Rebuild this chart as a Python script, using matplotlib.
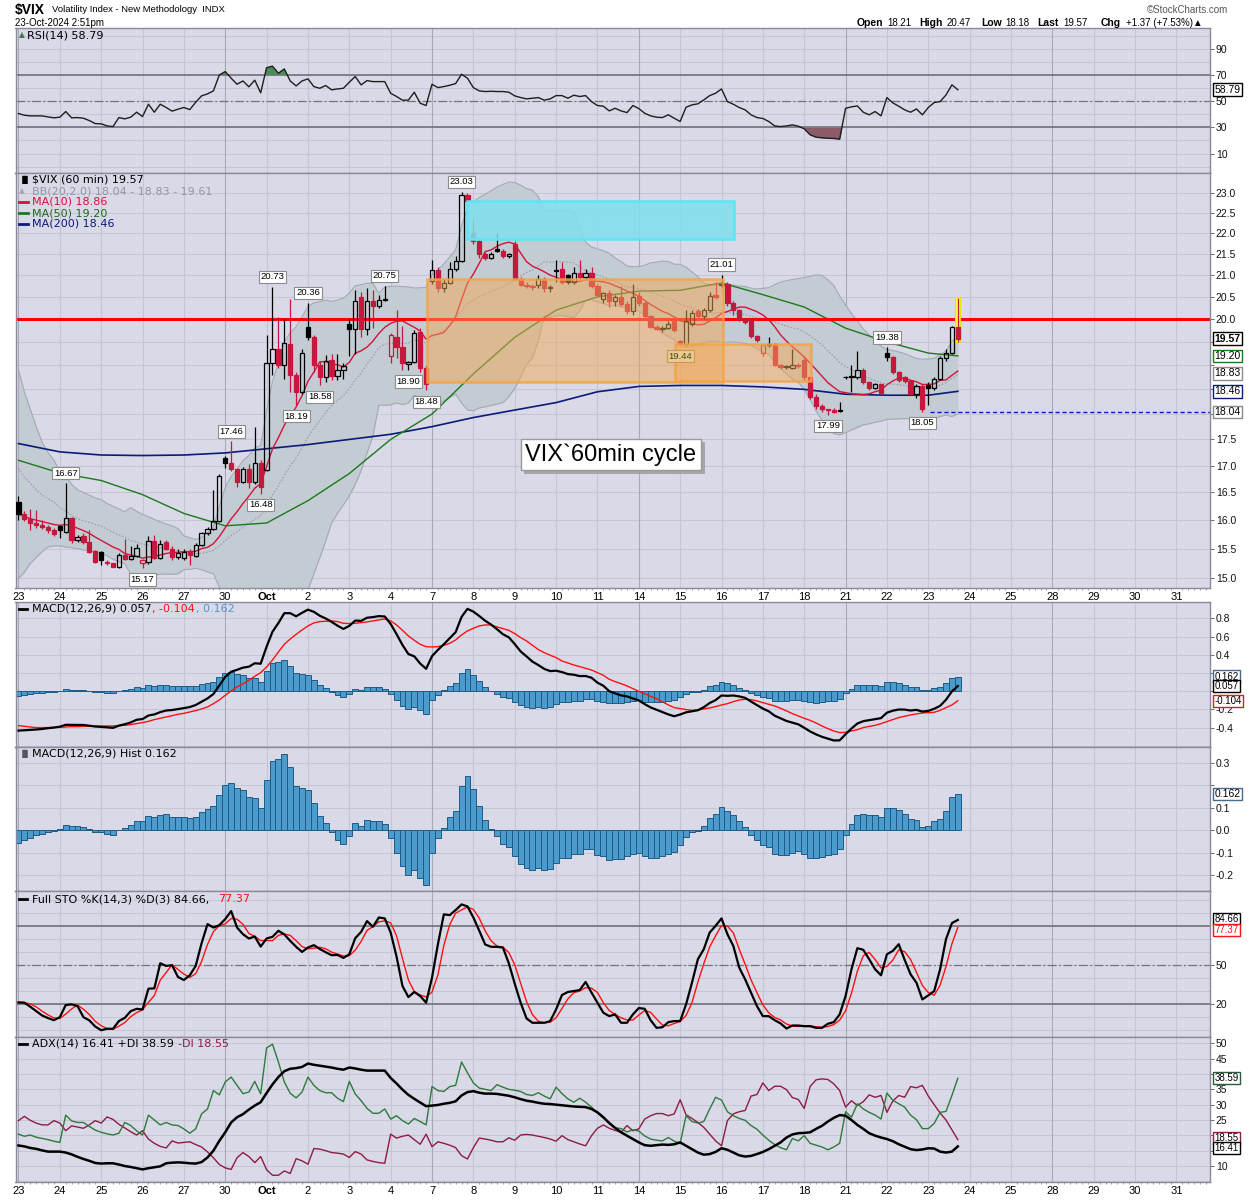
import numpy as np
import pandas as pd
import matplotlib
matplotlib.use('Agg')
import matplotlib.pyplot as plt
import matplotlib.patheffects as pe
from matplotlib.patches import Rectangle
from matplotlib.lines import Line2D
from matplotlib.ticker import FixedLocator, FuncFormatter, NullLocator

plt.rcParams['font.family'] = ['DejaVu Sans']

# trading days on the time axis (7 hourly bars per day)
day_labels = ['23', '24', '25', '26', '27', '30', 'Oct', '2', '3', '4', '7', '8', '9', '10', '11',
              '14', '15', '16', '17', '18', '21', '22', '23', '24', '25', '28', '29', '30', '31']

# $VIX 60 min candles, 23-Sep-2024 .. 23-Oct-2024 (14:30 bar)
opens = [16.33, 16.11, 16.02, 15.95, 15.92, 15.88, 15.82,
         15.90, 15.80, 16.03, 15.66, 15.72, 15.62, 15.46,
         15.45, 15.28, 15.25, 15.19, 15.40, 15.33, 15.38,
         15.26, 15.28, 15.64, 15.35, 15.61, 15.50, 15.36,
         15.34, 15.45, 15.38, 15.57, 15.77, 15.85, 15.98,
         17.15, 17.05, 16.93, 16.70, 16.94, 16.70, 17.05,
         16.92, 19.04, 19.35, 19.00, 19.45, 18.80, 18.45,
         19.82, 19.60, 19.00, 18.76, 19.12, 18.78, 18.90,
         19.90, 19.78, 20.50, 19.78, 20.40, 20.30, 20.42,
         19.20, 19.60, 19.38, 19.02, 19.07, 19.72, 18.95,
         20.87, 21.12, 20.70, 20.82, 21.15, 21.33, 22.95,
         22.00, 21.80, 21.50, 21.40, 21.62, 21.58, 21.45,
         21.75, 20.90, 20.78, 20.75, 20.78, 20.90, 20.70,
         21.12, 21.15, 21.00, 20.85, 21.05, 20.95, 21.05,
         20.75, 20.45, 20.58, 20.40, 20.50, 20.33, 20.17,
         20.52, 20.36, 20.06, 19.83, 19.78, 19.80, 19.95,
         19.52, 19.45, 19.90, 20.17, 20.06, 20.20, 20.55,
         20.80, 20.80, 20.35, 20.20, 19.98, 19.98, 19.63,
         19.27, 19.44, 19.45, 19.00, 18.97, 18.95, 19.00,
         19.12, 18.75, 18.35, 18.17, 18.08, 18.09, 18.07,
         18.75, 18.76, 18.76, 18.90, 18.65, 18.52, 18.60,
         19.27, 19.18, 18.85, 18.75, 18.67, 18.40, 18.57,
         18.58, 18.52, 18.72, 19.15, 19.27, 19.82]
highs = [16.44, 16.16, 16.20, 16.18, 16.00, 15.92, 15.86,
         15.92, 16.67, 16.05, 15.74, 15.78, 15.82, 15.48,
         15.47, 15.30, 15.26, 15.42, 15.67, 15.55, 15.58,
         15.32, 15.72, 15.74, 15.66, 15.66, 15.55, 15.50,
         15.50, 15.50, 15.60, 15.80, 15.88, 16.55, 16.85,
         17.18, 17.46, 16.96, 16.98, 17.02, 17.75, 17.10,
         19.65, 20.73, 20.05, 20.00, 20.45, 18.85, 19.35,
         20.36, 19.65, 19.10, 19.22, 19.25, 19.25, 19.05,
         20.00, 20.65, 20.60, 20.70, 20.65, 20.55, 20.75,
         19.70, 20.20, 19.85, 19.10, 19.75, 19.80, 19.00,
         21.35, 21.20, 20.90, 21.30, 21.45, 23.03, 23.00,
         22.35, 21.85, 21.55, 21.55, 22.00, 21.62, 21.52,
         21.80, 20.95, 20.85, 20.80, 21.00, 20.95, 20.78,
         21.35, 21.30, 21.02, 21.20, 21.35, 21.15, 21.20,
         20.80, 20.62, 20.65, 20.55, 20.75, 20.40, 20.80,
         20.60, 20.40, 20.10, 19.88, 19.85, 19.95, 19.98,
         19.55, 20.20, 20.20, 20.22, 20.25, 20.60, 20.85,
         21.01, 20.85, 20.40, 20.22, 20.02, 20.02, 19.66,
         19.46, 19.60, 19.48, 19.02, 19.00, 19.35, 19.05,
         19.20, 18.78, 18.40, 18.20, 18.10, 18.12, 18.25,
         18.78, 19.00, 19.30, 18.95, 18.68, 18.64, 18.62,
         19.38, 19.20, 18.88, 18.78, 18.70, 18.60, 18.60,
         18.65, 18.75, 19.20, 19.35, 19.85, 20.47]
lows = [16.00, 15.98, 15.83, 15.86, 15.85, 15.78, 15.72,
        15.68, 15.78, 15.60, 15.62, 15.58, 15.42, 15.26,
        15.22, 15.22, 15.19, 15.18, 15.30, 15.30, 15.36,
        15.17, 15.24, 15.32, 15.33, 15.48, 15.30, 15.32,
        15.30, 15.22, 15.36, 15.55, 15.74, 15.82, 15.96,
        16.95, 16.90, 16.60, 16.68, 16.58, 16.65, 16.48,
        16.90, 18.80, 18.95, 18.72, 18.45, 18.19, 18.40,
        19.55, 18.85, 18.58, 18.65, 18.70, 18.70, 18.72,
        19.20, 19.25, 19.60, 19.65, 19.80, 20.25, 20.40,
        19.05, 19.15, 18.90, 18.90, 19.05, 18.85, 18.48,
        20.80, 20.60, 20.62, 20.80, 21.10, 21.30, 22.70,
        21.75, 21.40, 21.35, 21.38, 21.55, 21.40, 21.40,
        20.88, 20.75, 20.70, 20.65, 20.70, 20.60, 20.62,
        20.85, 20.80, 20.80, 20.80, 20.90, 20.92, 20.70,
        20.50, 20.35, 20.28, 20.30, 20.30, 20.12, 20.10,
        20.30, 20.00, 19.80, 19.75, 19.72, 19.78, 19.72,
        19.44, 19.42, 19.85, 20.00, 20.00, 20.15, 20.45,
        20.70, 20.30, 20.10, 19.95, 19.90, 19.58, 19.50,
        19.20, 19.40, 18.98, 18.92, 18.93, 18.93, 18.95,
        18.70, 18.30, 18.10, 18.05, 17.99, 18.02, 18.05,
        18.72, 18.45, 18.72, 18.60, 18.48, 18.50, 18.40,
        19.10, 18.82, 18.65, 18.64, 18.38, 18.32, 18.05,
        18.18, 18.48, 18.70, 19.10, 19.25, 19.50]
closes = [16.11, 16.02, 15.95, 15.92, 15.88, 15.82, 15.76,
          15.82, 16.03, 15.66, 15.71, 15.62, 15.45, 15.28,
          15.30, 15.25, 15.19, 15.40, 15.33, 15.38, 15.52,
          15.30, 15.64, 15.35, 15.58, 15.50, 15.36, 15.42,
          15.45, 15.40, 15.57, 15.77, 15.85, 15.98, 16.81,
          17.05, 16.93, 16.70, 16.94, 16.70, 17.05, 16.60,
          19.04, 19.35, 19.00, 19.47, 18.80, 18.45, 19.27,
          19.60, 19.00, 18.76, 19.10, 18.78, 18.90, 18.98,
          19.78, 20.40, 19.78, 20.40, 20.30, 20.42, 20.44,
          19.65, 19.38, 19.05, 19.07, 19.70, 18.95, 18.62,
          21.12, 20.70, 20.82, 21.15, 21.33, 22.95, 22.80,
          21.80, 21.50, 21.40, 21.50, 21.58, 21.45, 21.50,
          20.90, 20.78, 20.75, 20.72, 20.90, 20.70, 20.72,
          21.10, 20.85, 20.85, 21.05, 20.95, 21.05, 20.75,
          20.55, 20.58, 20.40, 20.50, 20.33, 20.17, 20.49,
          20.36, 20.06, 19.83, 19.78, 19.80, 19.90, 19.76,
          19.45, 19.95, 20.13, 20.06, 20.20, 20.52, 20.50,
          20.78, 20.35, 20.20, 20.00, 19.93, 19.63, 19.55,
          19.44, 19.46, 19.00, 18.97, 18.97, 19.00, 18.98,
          18.75, 18.35, 18.17, 18.10, 18.09, 18.05, 18.08,
          18.76, 18.77, 18.90, 18.65, 18.52, 18.60, 18.43,
          19.18, 18.85, 18.69, 18.67, 18.40, 18.57, 18.10,
          18.52, 18.72, 19.15, 19.27, 19.82, 19.57]

# bands before 20 bars of history are available
bb_up_head = [18.90, 18.45, 18.10, 17.75, 17.45, 17.25, 17.10, 16.90, 16.80, 16.65,
              16.55, 16.50, 16.45, 16.40, 16.37, 16.30, 16.25, 16.20, 16.15]
bb_lo_head = [15.00, 15.10, 15.25, 15.35, 15.45, 15.53, 15.55, 15.55, 15.53, 15.52,
              15.50, 15.48, 15.47, 15.45, 15.42, 15.38, 15.32, 15.28, 15.25]

# long moving averages, one reading per session start
ma_bars = [0, 7, 14, 21, 28, 35, 42, 49, 56, 63, 70, 77, 84, 91, 98, 105, 112, 119,
           126, 133, 140, 147, 154, 159]
ma50 = [17.10, 16.86, 16.72, 16.46, 16.12, 15.90, 15.95, 16.35, 16.85, 17.50, 18.00, 18.82,
        19.60, 20.20, 20.50, 20.63, 20.65, 20.82, 20.55, 20.27, 19.80, 19.50, 19.26, 19.20]
ma200 = [17.42, 17.26, 17.20, 17.19, 17.20, 17.24, 17.32, 17.40, 17.50, 17.60, 17.75, 17.93,
         18.08, 18.23, 18.45, 18.56, 18.58, 18.58, 18.55, 18.50, 18.40, 18.38, 18.38, 18.46]

rsi = [40.6, 39.3, 38.8, 38.8, 38.8, 38.0, 37.3, 37.8, 42.1, 37.3,
       37.5, 37.0, 35.2, 32.9, 32.7, 31.1, 30.6, 37.5, 36.5, 37.8,
       41.6, 38.3, 47.7, 41.6, 47.7, 45.2, 42.4, 43.9, 45.2, 43.6,
       49.2, 54.1, 55.6, 57.9, 70.1, 72.7, 67.6, 63.0, 65.5, 61.0,
       66.1, 56.4, 75.7, 76.8, 71.4, 74.7, 65.5, 61.7, 65.5, 67.1,
       61.2, 59.9, 62.0, 58.7, 59.4, 59.9, 64.5, 68.9, 62.5, 65.8,
       65.0, 65.0, 65.0, 56.1, 53.6, 50.8, 50.8, 56.9, 48.5, 46.7,
       63.0, 60.4, 61.2, 62.2, 63.5, 70.6, 67.6, 60.4, 57.9, 57.4,
       57.6, 57.4, 57.4, 56.9, 54.1, 52.8, 51.8, 52.3, 52.8, 50.8,
       51.8, 54.3, 54.3, 52.3, 54.6, 53.6, 54.3, 49.7, 46.7, 46.2,
       42.6, 44.6, 42.6, 41.3, 46.7, 44.4, 40.8, 38.8, 37.8, 37.5,
       39.6, 37.0, 34.5, 45.4, 47.2, 48.0, 51.0, 54.3, 56.1, 59.4,
       49.7, 47.7, 45.2, 43.4, 39.6, 37.5, 36.8, 34.5, 31.1, 30.6,
       31.1, 31.9, 30.9, 28.9, 24.3, 22.5, 22.0, 21.7, 21.5, 21.0,
       44.6, 45.7, 46.4, 41.6, 39.6, 42.1, 38.8, 52.8, 48.7, 46.2,
       43.4, 41.6, 44.1, 39.6, 45.2, 49.0, 49.7, 54.8, 62.5, 58.8]

macd_signal = [-0.377, -0.385, -0.392, -0.399, -0.399, -0.399, -0.396, -0.396, -0.392, -0.388,
               -0.388, -0.385, -0.385, -0.381, -0.381, -0.381, -0.381, -0.377, -0.374, -0.366,
               -0.355, -0.344, -0.330, -0.311, -0.297, -0.282, -0.267, -0.253, -0.242, -0.227,
               -0.212, -0.194, -0.172, -0.136, -0.095, -0.044, 0.004, 0.048, 0.081, 0.121,
               0.165, 0.205, 0.267, 0.344, 0.432, 0.516, 0.575, 0.626, 0.674, 0.718,
               0.751, 0.766, 0.769, 0.773, 0.766, 0.747, 0.744, 0.747, 0.755, 0.762,
               0.773, 0.784, 0.795, 0.773, 0.729, 0.670, 0.608, 0.560, 0.516, 0.491,
               0.487, 0.491, 0.505, 0.527, 0.564, 0.619, 0.663, 0.692, 0.718, 0.729,
               0.729, 0.707, 0.689, 0.670, 0.634, 0.590, 0.553, 0.505, 0.458, 0.425,
               0.396, 0.370, 0.333, 0.311, 0.289, 0.271, 0.253, 0.234, 0.205, 0.176,
               0.132, 0.106, 0.084, 0.059, 0.029, 0.000, -0.026, -0.055, -0.081, -0.114,
               -0.150, -0.179, -0.190, -0.201, -0.209, -0.205, -0.194, -0.183, -0.168, -0.150,
               -0.136, -0.114, -0.095, -0.088, -0.092, -0.106, -0.125, -0.143, -0.161, -0.187,
               -0.216, -0.245, -0.271, -0.297, -0.319, -0.348, -0.381, -0.410, -0.436, -0.454,
               -0.451, -0.436, -0.421, -0.399, -0.385, -0.374, -0.355, -0.333, -0.311, -0.289,
               -0.275, -0.260, -0.249, -0.238, -0.234, -0.231, -0.209, -0.179, -0.150, -0.104]
macd_hist = [-0.055, -0.043, -0.033, -0.021, -0.015, -0.006, -0.003, 0.007, 0.024, 0.019,
             0.019, 0.015, 0.006, -0.006, -0.010, -0.015, -0.021, 0.000, 0.012, 0.024,
             0.042, 0.039, 0.064, 0.057, 0.068, 0.071, 0.061, 0.057, 0.057, 0.054,
             0.061, 0.079, 0.094, 0.106, 0.158, 0.202, 0.211, 0.188, 0.179, 0.149,
             0.143, 0.098, 0.223, 0.310, 0.318, 0.342, 0.283, 0.198, 0.188, 0.179,
             0.122, 0.064, 0.031, -0.010, -0.045, -0.062, -0.025, 0.030, 0.019, 0.046,
             0.042, 0.042, 0.027, -0.033, -0.101, -0.161, -0.199, -0.176, -0.211, -0.244,
             -0.101, -0.036, 0.012, 0.057, 0.086, 0.198, 0.243, 0.183, 0.109, 0.046,
             0.004, -0.025, -0.062, -0.077, -0.115, -0.152, -0.170, -0.179, -0.170, -0.179,
             -0.174, -0.144, -0.122, -0.122, -0.107, -0.104, -0.085, -0.085, -0.110, -0.115,
             -0.131, -0.129, -0.129, -0.115, -0.107, -0.101, -0.115, -0.122, -0.122, -0.115,
             -0.104, -0.095, -0.065, -0.030, -0.010, -0.003, 0.019, 0.054, 0.071, 0.104,
             0.086, 0.068, 0.039, 0.016, -0.021, -0.045, -0.065, -0.077, -0.107, -0.110,
             -0.110, -0.100, -0.092, -0.104, -0.122, -0.125, -0.119, -0.110, -0.104, -0.085,
             -0.021, 0.027, 0.067, 0.071, 0.068, 0.068, 0.060, 0.098, 0.098, 0.089,
             0.074, 0.049, 0.045, 0.015, 0.019, 0.039, 0.049, 0.086, 0.149, 0.162]

sto_k = [21.5, 21.3, 18.2, 14.8, 11.5, 9.5, 7.9, 10.2, 19.5, 20.0,
         18.7, 10.2, 7.7, 3.0, 0.2, 1.3, 1.3, 7.2, 9.7, 14.8,
         16.6, 16.1, 32.0, 32.3, 51.5, 49.5, 50.0, 41.0, 38.7, 42.3,
         49.5, 66.9, 81.5, 78.9, 80.7, 85.4, 91.5, 78.9, 73.8, 70.5,
         72.0, 64.3, 70.5, 71.8, 76.4, 73.6, 68.7, 64.1, 60.2, 63.6,
         65.4, 62.5, 60.0, 57.7, 57.9, 55.6, 58.4, 70.7, 75.6, 83.8,
         79.5, 86.6, 85.9, 75.1, 56.6, 34.1, 25.6, 29.5, 26.4, 21.3,
         40.5, 66.1, 89.0, 88.4, 92.3, 96.6, 95.1, 86.6, 76.4, 65.9,
         64.1, 64.1, 63.6, 51.5, 35.9, 21.3, 9.2, 5.9, 5.9, 5.9,
         7.2, 16.1, 27.2, 29.5, 30.2, 31.0, 37.2, 29.0, 21.3, 13.6,
         11.0, 12.3, 5.9, 5.9, 12.3, 17.2, 16.6, 7.9, 2.0, 2.5,
         6.4, 7.2, 7.2, 20.0, 36.6, 54.6, 62.3, 75.1, 80.2, 85.9,
         73.8, 64.8, 48.2, 39.2, 29.0, 18.7, 11.0, 11.0, 7.9, 5.4,
         1.5, 3.8, 3.8, 3.3, 3.3, 2.0, 2.0, 5.1, 6.4, 12.3,
         26.4, 46.9, 63.1, 61.8, 54.6, 46.9, 42.3, 58.4, 61.0, 66.1,
         54.1, 43.1, 36.6, 23.8, 26.9, 30.2, 46.9, 70.0, 82.3, 84.7]

adx = [16.7, 16.4, 15.9, 15.6, 15.1, 14.7, 14.7, 14.7, 14.4, 13.8,
       13.0, 12.3, 11.7, 11.0, 10.8, 10.9, 10.9, 10.5, 10.0, 9.7,
       9.3, 8.9, 9.3, 9.6, 9.9, 10.9, 11.1, 11.2, 11.1, 10.9,
       10.8, 11.3, 12.8, 15.0, 18.2, 21.0, 24.2, 25.9, 26.9, 28.4,
       29.7, 30.8, 33.8, 36.6, 39.0, 40.9, 41.7, 41.9, 42.3, 43.4,
       43.0, 42.7, 42.4, 42.1, 41.7, 41.4, 42.1, 41.8, 41.4, 41.1,
       41.1, 41.1, 41.1, 38.7, 36.9, 34.9, 33.2, 31.9, 30.7, 29.5,
       29.7, 29.9, 30.3, 30.6, 31.1, 33.0, 34.1, 34.4, 33.9, 33.6,
       33.6, 33.5, 33.2, 32.9, 32.4, 31.8, 31.3, 31.0, 30.6, 30.3,
       30.2, 30.0, 29.8, 29.6, 29.4, 29.3, 29.2, 28.6, 27.5, 25.9,
       24.0, 22.4, 21.0, 19.9, 18.8, 17.7, 16.8, 16.6, 16.8, 17.0,
       16.9, 17.1, 17.7, 16.6, 15.5, 14.4, 13.7, 13.9, 14.6, 15.8,
       15.3, 14.4, 13.5, 13.1, 13.3, 13.9, 14.6, 15.5, 16.6, 17.7,
       19.3, 20.3, 20.7, 20.8, 21.0, 22.1, 23.1, 24.5, 25.7, 26.6,
       26.4, 25.0, 23.4, 22.1, 20.7, 19.9, 19.3, 18.8, 18.1, 17.1,
       16.3, 15.5, 15.2, 15.4, 15.8, 15.7, 14.7, 14.4, 14.7, 16.4]
plus_di = [20.4, 19.7, 20.1, 19.4, 19.0, 18.6, 18.1, 17.7, 26.6, 24.7,
           24.2, 24.2, 22.9, 21.7, 21.0, 20.5, 20.1, 20.7, 24.2, 23.2,
           21.5, 20.1, 26.6, 25.0, 23.4, 24.2, 23.4, 23.2, 22.1, 20.7,
           22.1, 27.0, 28.6, 34.6, 33.2, 37.4, 39.0, 36.3, 33.6, 34.1,
           37.6, 33.5, 48.5, 49.7, 43.9, 37.4, 33.7, 32.2, 34.1, 39.0,
           36.3, 34.6, 33.9, 33.9, 32.1, 31.0, 37.6, 33.5, 31.3, 28.8,
           27.2, 27.2, 28.6, 25.3, 26.4, 24.8, 23.7, 25.5, 24.5, 23.4,
           35.9, 34.6, 34.3, 35.9, 36.3, 43.9, 40.4, 37.1, 35.4, 35.0,
           34.6, 36.5, 35.7, 35.0, 34.7, 34.3, 33.3, 33.0, 33.9, 32.8,
           31.9, 35.7, 33.6, 31.9, 30.8, 32.1, 30.8, 29.2, 27.3, 25.7,
           24.2, 22.5, 22.2, 21.1, 21.8, 21.4, 19.8, 18.8, 18.4, 18.2,
           19.3, 18.1, 17.4, 26.4, 24.5, 24.0, 24.5, 28.6, 32.4, 31.5,
           27.7, 26.4, 25.5, 24.9, 23.2, 22.0, 20.1, 18.4, 17.0, 16.0,
           15.3, 19.0, 18.2, 19.9, 17.4, 16.8, 16.2, 15.3, 16.2, 17.4,
           27.7, 25.9, 30.3, 28.6, 27.5, 26.6, 25.3, 33.8, 31.4, 30.3,
           29.2, 26.6, 25.1, 22.2, 22.2, 23.9, 27.5, 27.8, 33.0, 38.6]
minus_di = [24.8, 26.2, 24.9, 24.0, 23.4, 23.4, 24.8, 24.0, 21.5, 23.1,
            22.7, 22.3, 23.4, 24.8, 24.0, 26.0, 25.2, 23.6, 22.4, 21.2,
            20.1, 21.5, 18.8, 17.4, 16.4, 15.9, 18.2, 17.5, 17.7, 17.9,
            17.0, 16.2, 14.6, 12.7, 10.5, 9.4, 8.9, 12.7, 14.4, 13.1,
            11.1, 13.1, 8.8, 7.0, 7.0, 8.4, 7.6, 12.4, 11.7, 10.6,
            15.7, 15.5, 15.0, 14.4, 14.2, 13.9, 12.8, 14.7, 13.9, 12.0,
            11.5, 11.1, 10.9, 20.4, 19.1, 19.7, 20.1, 18.6, 17.1, 20.4,
            16.3, 17.9, 17.4, 16.8, 16.0, 13.4, 12.3, 16.0, 19.1, 18.8,
            18.4, 17.9, 17.9, 19.2, 18.4, 20.1, 20.3, 20.1, 19.7, 19.3,
            18.8, 18.1, 19.9, 18.6, 17.9, 17.2, 16.6, 19.9, 22.3, 23.4,
            22.3, 21.6, 21.0, 23.2, 21.5, 22.1, 25.3, 26.4, 27.1, 27.1,
            26.4, 27.0, 31.6, 26.7, 25.5, 24.2, 22.6, 20.4, 18.2, 16.6,
            24.8, 27.0, 27.7, 28.1, 32.8, 33.3, 37.1, 34.6, 36.0, 36.0,
            34.9, 32.3, 31.7, 28.8, 35.9, 38.1, 38.4, 38.2, 36.8, 34.6,
            29.2, 31.3, 29.7, 31.0, 33.2, 32.4, 33.0, 27.5, 31.2, 33.0,
            32.4, 35.9, 35.5, 36.3, 32.8, 30.0, 27.3, 25.0, 21.8, 18.6]

# bars carrying high / low price flags
peak_bars = [8, 36, 43, 49, 62, 75, 119, 147]
trough_bars = [21, 41, 47, 51, 66, 69, 112, 137, 153]

# ---------------- derived series ----------------
o = np.array(opens); h = np.array(highs); l = np.array(lows); c = np.array(closes)
n = len(c)
idx = np.arange(n)
cs = pd.Series(c)
ma10 = cs.rolling(10, min_periods=1).mean().to_numpy()
mid = cs.rolling(20, min_periods=1).mean().to_numpy()
sd = cs.rolling(20, min_periods=20).std(ddof=0).to_numpy()
bb_up = mid + 2 * sd
bb_lo = mid - 2 * sd
k0 = len(bb_up_head)
bb_up[:k0] = bb_up_head
bb_lo[:k0] = bb_lo_head
mid[:k0] = (np.array(bb_up_head) + np.array(bb_lo_head)) / 2
sig = np.array(macd_signal)
hist = np.array(macd_hist)
macd = sig + hist
sto_k = np.array(sto_k)
sto_d = pd.Series(sto_k).rolling(3, min_periods=1).mean().to_numpy()
rsi = np.array(rsi)

# ---------------- layout (pixel based) ----------------
W, H = 1250, 1200
fig = plt.figure(figsize=(W / 100, H / 100), dpi=100)
fig.patch.set_facecolor('white')
L, R = 15.5, 1209.5
XMAX = 201.6
BG = '#D9D9E7'
GRID = '#C5C5D4'
WEEK = '#A8A8BA'
FRAME = '#8A8A9A'
RED = '#C8173D'
day_x = np.arange(len(day_labels)) * 7


def panel(top, bottom):
    return fig.add_axes([L / W, 1 - bottom / H, (R - L) / W, (bottom - top) / H])


def base(ax, ylim, ticks, fmt, grid_vals, xlab=False, covered=()):
    # covered: tick values whose labels sit under the value flags
    ax.set_facecolor(BG)
    ax.set_xlim(-0.5, XMAX)
    ax.set_ylim(*ylim)
    for g in grid_vals:
        ax.axhline(g, color=GRID, lw=0.7, zorder=0)
    for j, d in enumerate(day_x):
        ax.axvline(d, color=WEEK if j % 5 == 0 else GRID, lw=0.8, zorder=0)
    ax.yaxis.tick_right()
    ax.yaxis.set_major_locator(FixedLocator(ticks))
    ax.yaxis.set_minor_locator(NullLocator())
    ax.yaxis.set_major_formatter(FuncFormatter(
        lambda v, p: '' if any(abs(v - cv) < 1e-6 for cv in covered) else fmt % v))
    ax.tick_params(axis='y', which='major', length=3, width=0.6, color='#555555',
                   labelsize=7.5, pad=1.5, labelcolor='#111111')
    for t in ax.get_yticklabels():
        t.set_family('Liberation Sans')
    ax.set_xticks(day_x)
    if xlab:
        ax.set_xticklabels(day_labels)
        ax.set_xticks(np.arange(0, XMAX, 1), minor=True)
        ax.tick_params(axis='x', which='major', length=0, pad=3, labelsize=8)
        ax.tick_params(axis='x', which='minor', length=1.5, width=0.5, color='#777777')
        for t in ax.get_xticklabels():
            t.set_family('Liberation Sans')
            if t.get_text() == 'Oct':
                t.set_fontweight('bold')
    else:
        ax.tick_params(axis='x', length=0, labelbottom=False)
    for s in ax.spines.values():
        s.set_color(FRAME)
        s.set_linewidth(1.0)


def ftext(x, y, s, **kw):
    kw.setdefault('fontsize', 8)
    kw.setdefault('va', 'center')
    return fig.text(x / W, 1 - y / H, s, **kw)


def fline(x0, x1, y, color, lw=2.0):
    fig.add_artist(Line2D([x0 / W, x1 / W], [1 - y / H, 1 - y / H], color=color, lw=lw,
                          transform=fig.transFigure))


def vbox(ax, y, s, ec, bold=False, tc='black', size=7.5):
    ax.text(1.004, y, s, transform=ax.get_yaxis_transform(), ha='left', va='center',
            fontsize=size, color=tc, family='Liberation Sans',
            fontweight='bold' if bold else 'normal', clip_on=False, zorder=20,
            bbox=dict(boxstyle='square,pad=0.12', fc='white', ec=ec, lw=1.0))


ax_rsi = panel(28, 173)
ax_px = panel(173, 588)
ax_macd = panel(602, 747)
ax_hist = panel(747, 891)
ax_sto = panel(891, 1037)
ax_adx = panel(1037, 1182)

# ---------------- header ----------------
ftext(15, 10, '$VIX', fontsize=10, fontweight='bold', family='Liberation Sans')
ftext(52, 10, 'Volatility Index - New Methodology  INDX', fontsize=6.8, family='Liberation Sans')
ftext(15, 23, '23-Oct-2024 2:51pm', fontsize=7, family='Liberation Sans')
ftext(1228, 10, '\u00a9StockCharts.com', fontsize=7, ha='right', color='#555555', family='Liberation Sans')
for x, s, b in [(857, 'Open', True), (887, '18.21', False), (919, 'High', True), (947, '20.47', False),
                (981, 'Low', True), (1005, '18.18', False), (1037, 'Last', True), (1063, '19.57', False),
                (1101, 'Chg', True), (1126, '+1.37 (+7.53%)\u25b2', False)]:
    ftext(x, 23, s, fontsize=7.5 if b else 7, fontweight='bold' if b else 'normal', family='Liberation Sans')

# ---------------- RSI ----------------
ax = ax_rsi
base(ax, (-4.9, 106), [10, 30, 50, 70, 90], '%d', range(0, 101, 10))
ax.axhline(70, color='#6A6A74', lw=1.1, zorder=1)
ax.axhline(30, color='#6A6A74', lw=1.1, zorder=1)
ax.axhline(50, color='#74747C', lw=0.9, ls=(0, (7, 2, 1.5, 2)), zorder=1)
ax.fill_between(idx, rsi, 70, where=rsi > 70, interpolate=True, color='#4E8A5C', lw=0, zorder=2)
ax.fill_between(idx, rsi, 30, where=rsi < 30, interpolate=True, color='#8C5C68', lw=0, zorder=2)
ax.plot(idx, rsi, color='#1E1E1E', lw=1.0, zorder=3)
vbox(ax, rsi[-1], '%.2f' % 58.79, 'black')
ftext(19, 35, '\u25b2', fontsize=5.5, color='#3E7A4C')
ftext(27, 35, 'RSI(14) 58.79')

# ---------------- price ----------------
ax = ax_px
ax.set_yscale('log')
pticks = np.arange(15.0, 23.01, 0.5)
base(ax, (14.84, 23.52), pticks, '%.1f', pticks, xlab=True, covered=(18.0, 18.5, 19.0, 19.5))
ax.fill_between(idx, bb_lo, bb_up, color='#C3CBD3', lw=0, zorder=1)
ax.plot(idx, bb_up, color='#A2AAB4', lw=0.8, zorder=1.5)
ax.plot(idx, bb_lo, color='#A2AAB4', lw=0.8, zorder=1.5)
ax.plot(idx, mid, color='#9C9CA6', lw=0.8, ls=(0, (1.5, 1.5)), zorder=1.6)
ax.plot(ma_bars, ma200, color='#0B1B78', lw=1.2, zorder=2)
ax.plot(ma_bars, ma50, color='#1B7A1B', lw=1.0, zorder=2)
ax.plot(idx, ma10, color='#D0143C', lw=1.0, zorder=2.2)
ax.axhline(20.0, color='#FF0000', lw=2.2, zorder=2.5)
ax.hlines(18.04, 154.3, XMAX, colors='#1414CC', linestyles=(0, (3, 2)), lw=1.0, zorder=2.5)
ax.add_patch(Rectangle((158.55, 19.5), 0.9, 1.0, fc='#FFFF3A', ec='#E6E600', lw=0.8, zorder=3))

prev_c = np.r_[c[0], c[:-1]]
col = np.where(c >= prev_c, '#000000', RED)
face = np.where(c < o, col, 'none')
body_lo = np.minimum(o, c)
body_hi = np.maximum(o, c)
body_h = np.maximum(body_hi - body_lo, 0.015)
ax.vlines(idx, l, body_lo, colors=list(col), lw=0.9, zorder=4)
ax.vlines(idx, body_hi, h, colors=list(col), lw=0.9, zorder=4)
ax.bar(idx, body_h, bottom=body_lo, width=0.72, color=list(face), edgecolor=list(col),
       linewidth=0.9, zorder=4.2)

# drawn zones (bar index / price corners)
zone_a = (69.1, 119.3, 18.65, 20.92)
zone_b = (111.1, 134.2, 18.68, 19.46)
for x0, x1, y0, y1 in (zone_a, zone_b):
    ax.add_patch(Rectangle((x0, y0), x1 - x0, y1 - y0,
                           fc=(0.95, 0.66, 0.33, 0.5), ec=(0.96, 0.64, 0.25, 0.85), lw=1.8, zorder=5))
ax.add_patch(Rectangle((76.0, 21.85), 121.2 - 76.0, 22.81 - 21.85,
                       fc=(0.50, 0.88, 0.93, 0.85), ec=(0.35, 0.90, 0.96, 1.0), lw=1.8, zorder=5))


def in_zone(b, y):
    return any(x0 <= b <= x1 and y0 <= y <= y1 for x0, x1, y0, y1 in (zone_a, zone_b))


for b in peak_bars:
    ax.annotate('%.2f' % h[b], xy=(b, h[b]), xytext=(0, 4), textcoords='offset points',
                ha='center', va='bottom', fontsize=6.8, family='Liberation Sans', zorder=5.5,
                bbox=dict(boxstyle='square,pad=0.18', fc='white', ec='#8C8C8C', lw=0.8))
for b in trough_bars:
    inside = in_zone(b, l[b])
    ax.annotate('%.2f' % l[b], xy=(b, l[b]), xytext=(0, -5), textcoords='offset points',
                ha='center', va='top', fontsize=6.8, family='Liberation Sans', zorder=5.5,
                color='#3A4A1A' if inside else 'black',
                bbox=dict(boxstyle='square,pad=0.18', fc='#EEC98F' if inside else 'white',
                          ec='#C89A5A' if inside else '#8C8C8C', lw=0.8))

t = ax.text(100.3, 17.21, 'VIX`60min cycle', fontsize=17, family='Liberation Sans',
            ha='center', va='center', zorder=6,
            bbox=dict(boxstyle='square,pad=0.2', fc='white', ec='#9A9A9A', lw=1.0))
t.get_bbox_patch().set_path_effects([pe.withSimplePatchShadow(offset=(2.5, -2.5), shadow_rgbFace='#9A9A9A', alpha=0.8)])

vbox(ax, 19.57, '19.57', 'black', bold=True)
vbox(ax, 19.20, '19.20', '#1B7A1B')
vbox(ax, 18.83, '18.83', '#8C8C8C')
vbox(ax, 18.46, '18.46', '#0B1B78')
vbox(ax, 18.04, '18.04', '#8C8C8C')

ftext(19, 180, '\u2590\u258c', fontsize=6, color='black')
ftext(31.5, 180, '$VIX (60 min) 19.57')
ftext(19, 191, '\u25b2', fontsize=5.5, color='#A8A8B2')
ftext(31.5, 191, 'BB(20,2.0) 18.04 - 18.83 - 19.61', color='#9696A2')
fline(19, 28, 202, '#D0143C')
ftext(31.5, 202, 'MA(10) 18.86', color='#D0143C')
fline(19, 28, 213, '#1B7A1B')
ftext(31.5, 213, 'MA(50) 19.20', color='#1B6A1B')
fline(19, 28, 224, '#0B1B78')
ftext(31.5, 224, 'MA(200) 18.46', color='#0B1B78')

# ---------------- MACD ----------------
ax = ax_macd
base(ax, (-0.612, 0.981), [-0.4, -0.2, 0.0, 0.2, 0.4, 0.6, 0.8], '%.1f', np.arange(-0.6, 0.81, 0.2),
     covered=(0.0, 0.2))
ax.bar(idx, hist, width=1.0, color='#4C9BCD', edgecolor='#1D5B85', linewidth=0.7, zorder=2)
ax.plot(idx, sig, color='#FF1010', lw=1.0, zorder=3)
ax.plot(idx, macd, color='#000000', lw=1.6, zorder=3.2)
vbox(ax, 0.162, '0.162', '#4A6A8A', size=7)
vbox(ax, 0.057, '0.057', 'black', size=7)
vbox(ax, -0.104, '-0.104', '#FF1010', size=7)
fline(19, 27, 609, 'black')
ftext(31.5, 609, 'MACD(12,26,9) 0.057')
ftext(151.5, 609, ', -0.104', color='#FF1010')
ftext(196.5, 609, ', 0.162', color='#4C9ACF')

# ---------------- MACD histogram ----------------
ax = ax_hist
base(ax, (-0.271, 0.371), [-0.2, -0.1, 0.0, 0.1, 0.2, 0.3], '%.1f', np.arange(-0.2, 0.31, 0.1),
     covered=(0.2,))
ax.bar(idx, hist, width=1.0, color='#4C9BCD', edgecolor='#1D5B85', linewidth=0.7, zorder=2)
vbox(ax, 0.162, '0.162', '#4A6A8A')
ftext(19, 754, '\u2590\u258c', fontsize=6, color='#555566')
ftext(31.5, 754, 'MACD(12,26,9) Hist 0.162')

# ---------------- Full stochastics ----------------
ax = ax_sto
base(ax, (-5.0, 106.9), [20, 50], '%d', range(0, 101, 10))
ax.axhline(80, color='#6A6A74', lw=1.1, zorder=1)
ax.axhline(20, color='#6A6A74', lw=1.1, zorder=1)
ax.axhline(50, color='#74747C', lw=0.9, ls=(0, (7, 2, 1.5, 2)), zorder=1)
ax.plot(idx, sto_d, color='#FF1010', lw=1.0, zorder=3)
ax.plot(idx, sto_k, color='#000000', lw=1.6, zorder=3.2)
vbox(ax, 85.2, '84.66', 'black', size=7)
vbox(ax, 76.9, '77.37', '#FF1010', tc='#FF1010', size=7)
fline(19, 27, 899, 'black')
ftext(31.5, 899, 'Full STO %K(14,3) %D(3) 84.66,')
ftext(218, 899, '77.37', color='#FF1010')

# ---------------- ADX ----------------
ax = ax_adx
base(ax, (4.8, 52.05), [10, 15, 20, 25, 30, 35, 40, 45, 50], '%d', range(5, 51, 5), xlab=True,
     covered=(15, 20, 40))
ax.plot(idx, minus_di, color='#8E1C44', lw=1.0, zorder=3)
ax.plot(idx, plus_di, color='#2D7A3A', lw=1.0, zorder=3)
ax.plot(idx, adx, color='#000000', lw=1.8, zorder=3.2)
vbox(ax, 38.59, '38.59', '#2D5A3A', size=7)
vbox(ax, 19.0, '18.55', '#8E1C44', size=7)
vbox(ax, 15.9, '16.41', 'black', size=7)
fline(19, 27, 1044, 'black')
ftext(31.5, 1044, 'ADX(14) 16.41 +DI 38.59')
ftext(178, 1044, '-DI 18.55', color='#8E1C44')

fig.savefig('out.png', dpi=100, facecolor='white')
